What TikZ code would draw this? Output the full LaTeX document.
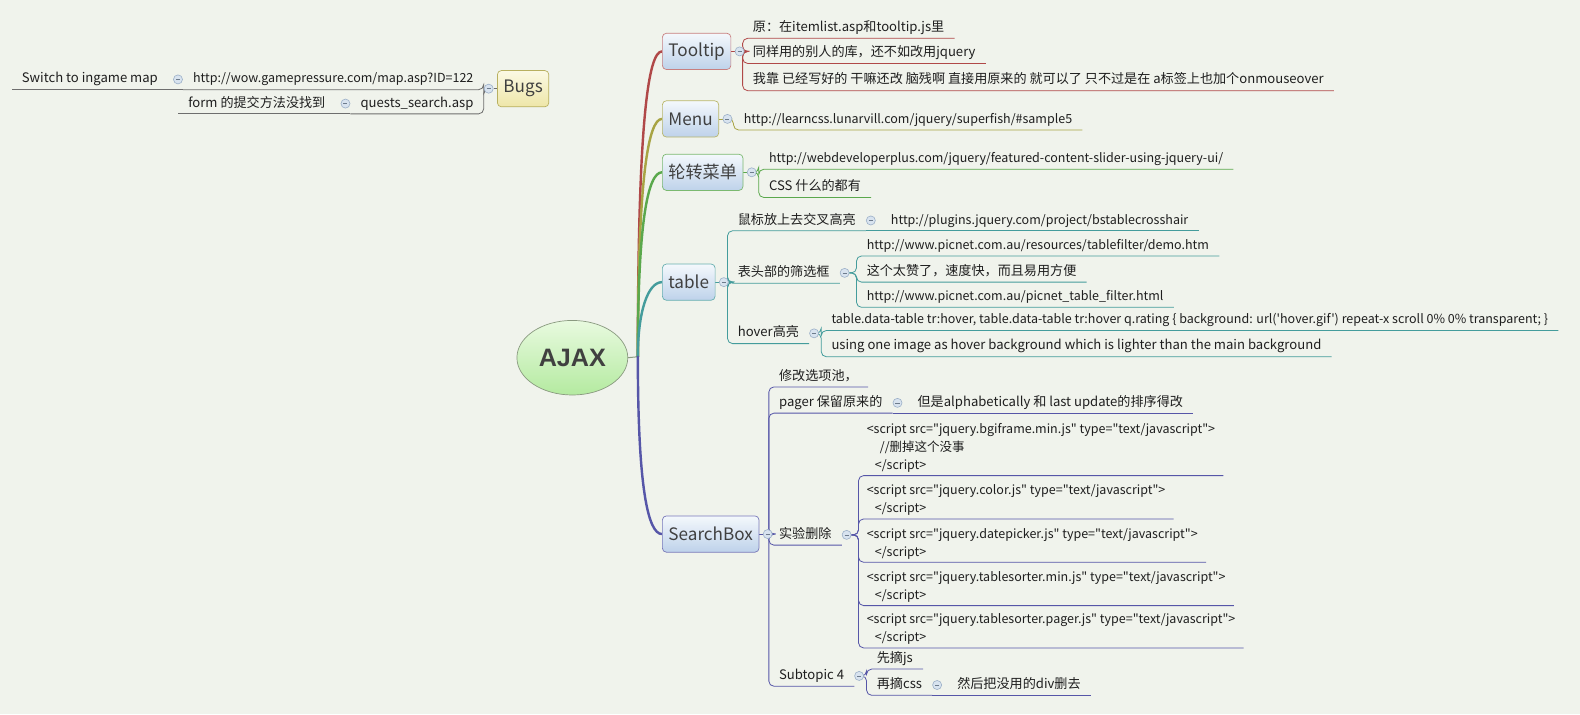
\documentclass[tikz,border=0pt]{standalone}
\usepackage{fontspec}
\setmainfont{Noto Sans CJK SC}[Ligatures=TeXOff]
\newfontfamily\ajaxfont{Liberation Sans}
\usetikzlibrary{positioning, shapes.geometric, backgrounds}
\definecolor{paper}{HTML}{F0F3EC}
\definecolor{ink}{HTML}{1E1E1E}
\definecolor{ttred}{HTML}{B04848}
\definecolor{mnolive}{HTML}{A8A444}
\definecolor{lzgreen}{HTML}{5AA84C}
\definecolor{tbteal}{HTML}{449C9C}
\definecolor{sbblue}{HTML}{5656A8}
\definecolor{bgline}{HTML}{6E6E6E}
\definecolor{bgrim}{HTML}{B8B060}
\definecolor{bugtop}{HTML}{FBF9E4}
\definecolor{bugbot}{HTML}{EEE6A8}
\definecolor{boxtop}{HTML}{F4F8FC}
\definecolor{boxbot}{HTML}{BED2EA}
\definecolor{ajaxtop}{HTML}{E8FADF}
\definecolor{ajaxbot}{HTML}{B4EAA0}
\definecolor{ajaxrim}{HTML}{8A9A80}
\definecolor{foldfill}{HTML}{D8E3EF}
\definecolor{foldrim}{HTML}{9CB0C8}

\tikzset{
  topic/.style={draw, rounded corners=4pt, top color=boxtop, bottom color=boxbot,
    line width=0.7pt, font=\fontsize{17}{20}\selectfont, text=ink!85,
    inner xsep=6pt, minimum height=36pt, anchor=west},
  leaf/.style={font=\fontsize{13}{18}\selectfont, text=ink, inner xsep=10pt,
    inner ysep=3.5pt, text height=10pt, text depth=3pt, anchor=south west},
  urlleaf/.style={leaf, font=\fontsize{12.4}{18}\selectfont},
  codeleaf/.style={font=\fontsize{12.4}{18}\selectfont, text=ink, inner xsep=8pt,
    inner ysep=3pt, align=left, anchor=south west},
  foldmark/.style={circle, draw=foldrim, fill=foldfill, minimum size=9pt,
    inner sep=0pt, line width=0.6pt,
    path picture={\draw[foldrim!70!black, line width=0.6pt]
      ([xshift=-2pt]path picture bounding box.center) --
      ([xshift=2pt]path picture bounding box.center);}},
  twig/.style={line width=0.8pt, rounded corners=5pt},
  bough/.style={line width=2.4pt, line cap=round},
}

\begin{document}
\begin{tikzpicture}[x=1pt, y=-1pt]
  \useasboundingbox (0,0) rectangle (1568,709);
  \begin{pgfonlayer}{background}
    \fill[paper] (0,0) rectangle (1568,709);
  \end{pgfonlayer}

  % Zentrum
  \node[ellipse, draw=ajaxrim, line width=0.7pt, top color=ajaxtop, bottom color=ajaxbot,
    minimum width=110pt, minimum height=74pt, text=ink!85,
    font=\ajaxfont\bfseries\fontsize{25}{28}\selectfont] (ajax) at (568,355) {AJAX};
  \coordinate (root) at (633,354);

  % Bugs (frei)
  \node[topic, draw=bgrim, top color=bugtop, bottom color=bugbot, anchor=east] (bg) at (545,88) {Bugs};
  \node[foldmark, left=3.5pt of bg] (bg-f) {};
  \node[urlleaf, anchor=south east] (bg-1) at (480,89) {http://wow.gamepressure.com/map.asp?ID=122};
  \node[foldmark, left=0pt of bg-1] (bg-1-f) {};
  \node[leaf, left=5pt of bg-1-f] (bg-1a) {Switch to ingame map};
  \node[leaf, anchor=south east] (bg-2) at (480,113) {quests\_search.asp};
  \node[foldmark, left=0pt of bg-2] (bg-2-f) {};
  \node[leaf, left=5pt of bg-2-f] (bg-2a) {form 的提交方法没找到};

  % Tooltip
  \node[topic, draw=ttred!70] (tt) at (657,51) {Tooltip};
  \node[foldmark, right=3.5pt of tt] (tt-f) {};
  \node[leaf] (tt-1) at (737,38) {原：在itemlist.asp和tooltip.js里};
  \node[leaf] (tt-2) at (737,63) {同样用的别人的库，还不如改用jquery};
  \node[leaf] (tt-3) at (737,90) {我靠 已经写好的 干嘛还改 脑残啊 直接用原来的 就可以了 只不过是在 a标签上也加个onmouseover};

  % Menu
  \node[topic, draw=mnolive!80] (mn) at (657,118) {Menu};
  \node[foldmark, right=3.5pt of mn] (mn-f) {};
  \node[urlleaf] (mn-1) at (728,129) {http://learncss.lunarvill.com/jquery/superfish/\#sample5};

  % 轮转菜单
  \node[topic, draw=lzgreen!80] (lz) at (657,171) {轮转菜单};
  \node[foldmark, right=3.5pt of lz] (lz-f) {};
  \node[urlleaf] (lz-1) at (753,168) {http://webdeveloperplus.com/jquery/featured-content-slider-using-jquery-ui/};
  \node[leaf] (lz-2) at (753,196) {CSS 什么的都有};

  % table
  \node[topic, draw=tbteal!80] (tb) at (657,280) {table};
  \node[foldmark, right=3.5pt of tb] (tb-f) {};
  \node[leaf] (tb-1) at (722,229) {鼠标放上去交叉高亮};
  \node[foldmark, right=0pt of tb-1] (tb-1-f) {};
  \node[urlleaf, right=5pt of tb-1-f] (tb-1a) {http://plugins.jquery.com/project/bstablecrosshair};
  \node[leaf] (tb-2) at (722,281) {表头部的筛选框};
  \node[foldmark, right=0pt of tb-2] (tb-2-f) {};
  \node[urlleaf] (tb-2a) at (850,254) {http://www.picnet.com.au/resources/tablefilter/demo.htm};
  \node[leaf] (tb-2b) at (850,280) {这个太赞了，速度快，而且易用方便};
  \node[urlleaf] (tb-2c) at (850,305) {http://www.picnet.com.au/picnet\_table\_filter.html};
  \node[leaf] (tb-3) at (722,341) {hover高亮};
  \node[foldmark, right=0pt of tb-3] (tb-3-f) {};
  \node[urlleaf] (tb-3a) at (815,328) {table.data-table tr:hover, table.data-table tr:hover q.rating \{ background: url('hover.gif') repeat-x scroll 0\% 0\% transparent; \}};
  \node[leaf] (tb-3b) at (815,354) {using one image as hover background which is lighter than the main background};

  % SearchBox
  \node[topic, draw=sbblue!80] (sb) at (657,530) {SearchBox};
  \node[foldmark, right=3.5pt of sb] (sb-f) {};
  \node[leaf] (sb-1) at (763,384) {修改选项池，};
  \node[leaf] (sb-2) at (763,410) {pager 保留原来的};
  \node[foldmark, right=0pt of sb-2] (sb-2-f) {};
  \node[leaf, right=5pt of sb-2-f] (sb-2a) {但是alphabetically 和 last update的排序得改};
  \node[leaf] (sb-3) at (763,541) {实验删除};
  \node[foldmark, right=0pt of sb-3] (sb-3-f) {};
  \node[codeleaf] (sb-3a) at (852,472) {<script src="jquery.bgiframe.min.js" type="text/javascript">\\\hspace*{13pt}//删掉这个没事\\\hspace*{8pt}</script>};
  \node[codeleaf] (sb-3b) at (852,515) {<script src="jquery.color.js" type="text/javascript">\\\hspace*{8pt}</script>};
  \node[codeleaf] (sb-3c) at (852,558) {<script src="jquery.datepicker.js" type="text/javascript">\\\hspace*{8pt}</script>};
  \node[codeleaf] (sb-3d) at (852,601) {<script src="jquery.tablesorter.min.js" type="text/javascript">\\\hspace*{8pt}</script>};
  \node[codeleaf] (sb-3e) at (852,643) {<script src="jquery.tablesorter.pager.js" type="text/javascript">\\\hspace*{8pt}</script>};
  \node[leaf] (sb-4) at (763,681) {Subtopic 4};
  \node[foldmark, right=0pt of sb-4] (sb-4-f) {};
  \node[leaf] (sb-4a) at (860,664) {先摘js};
  \node[leaf] (sb-4b) at (860,690) {再摘css};
  \node[foldmark, right=0pt of sb-4b] (sb-4b-f) {};
  \node[leaf, right=5pt of sb-4b-f] (sb-4c) {然后把没用的div删去};

  % Verbindungen
  \begin{scope}[on background layer]
    \draw[line width=1pt, ajaxrim] (ajax.east) -- (root);
    \draw[bough, ttred] (root) .. controls +(0,-230) and +(-14,0) .. (tt.west);
    \draw[bough, mnolive] (root) .. controls +(0,-175) and +(-14,0) .. (mn.west);
    \draw[bough, lzgreen] (root) .. controls +(0,-135) and +(-14,0) .. (lz.west);
    \draw[bough, tbteal] (root) .. controls +(0,-45) and +(-14,0) .. (tb.west);
    \draw[bough, sbblue] (root) .. controls +(0,130) and +(-14,0) .. (sb.west);

    \draw[twig, bgline] (bg.west) -- (bg-f);
    \foreach \leafname in {bg-1,bg-2}
      \draw[twig, bgline] (bg-f) -| (\leafname.south east) -- (\leafname.south west);
    \draw[twig, bgline] (bg-1.south west) -- (bg-1a.south west);
    \draw[twig, bgline] (bg-2.south west) -- (bg-2a.south west);

    \draw[twig, ttred] (tt.east) -- (tt-f);
    \foreach \leafname in {tt-1,tt-2,tt-3}
      \draw[twig, ttred] (tt-f) -| (\leafname.south west) -- (\leafname.south east);

    \draw[twig, mnolive] (mn.east) -- (mn-f);
    \draw[twig, mnolive] (mn-f) -| (mn-1.south west) -- (mn-1.south east);

    \draw[twig, lzgreen] (lz.east) -- (lz-f);
    \foreach \leafname in {lz-1,lz-2}
      \draw[twig, lzgreen] (lz-f) -| (\leafname.south west) -- (\leafname.south east);

    \draw[twig, tbteal] (tb.east) -- (tb-f);
    \foreach \leafname in {tb-1,tb-2,tb-3}
      \draw[twig, tbteal] (tb-f) -| (\leafname.south west) -- (\leafname.south east);
    \draw[twig, tbteal] (tb-1.south east) -- (tb-1a.south east);
    \foreach \leafname in {tb-2a,tb-2b,tb-2c}
      \draw[twig, tbteal] (tb-2-f) -| (\leafname.south west) -- (\leafname.south east);
    \foreach \leafname in {tb-3a,tb-3b}
      \draw[twig, tbteal] (tb-3-f) -| (\leafname.south west) -- (\leafname.south east);

    \draw[twig, sbblue] (sb.east) -- (sb-f);
    \foreach \leafname in {sb-1,sb-2,sb-3,sb-4}
      \draw[twig, sbblue] (sb-f) -| (\leafname.south west) -- (\leafname.south east);
    \draw[twig, sbblue] (sb-2.south east) -- (sb-2a.south east);
    \foreach \leafname in {sb-3a,sb-3b,sb-3c,sb-3d,sb-3e}
      \draw[twig, sbblue] (sb-3-f) -| (\leafname.south west) -- (\leafname.south east);
    \foreach \leafname in {sb-4a,sb-4b}
      \draw[twig, sbblue] (sb-4-f) -| (\leafname.south west) -- (\leafname.south east);
    \draw[twig, sbblue] (sb-4b.south east) -- (sb-4c.south east);
  \end{scope}
\end{tikzpicture}
\end{document}
